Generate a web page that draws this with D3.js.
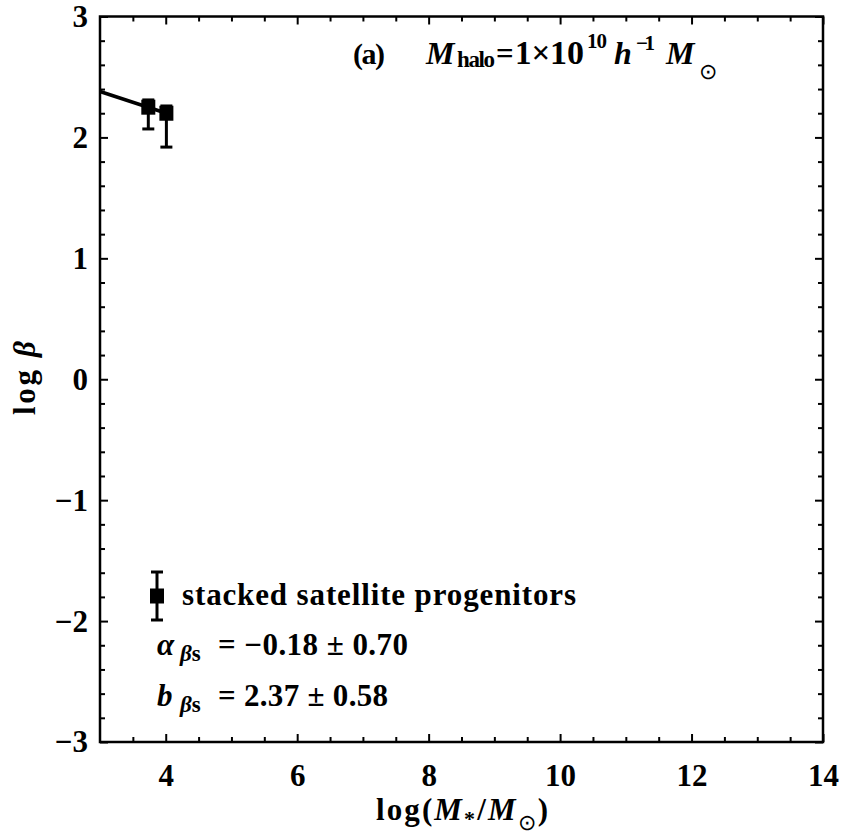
<!DOCTYPE html>
<html>
<head>
<meta charset="utf-8">
<script src="https://cdn.jsdelivr.net/npm/d3@7"></script>
<style>
  html, body { margin: 0; padding: 0; background: #fff; }
  text { font-family: "Liberation Serif", "Times New Roman", serif; font-weight: bold; fill: #000; }
</style>
</head>
<body>
<svg id="chart" width="842" height="834"></svg>
<script>
// ---- data ----
const xDomain = [3, 14];
const yDomain = [-3, 3];
const xTickValues = [4, 6, 8, 10, 12, 14];
const yTickValues = [-3, -2, -1, 0, 1, 2, 3];
const pointX = [3.735, 4.01];
const pointY = [2.25, 2.20];
const errLow = [2.07, 1.92];
const errHigh = [2.31, 2.26];
const fitX = [3.0, 4.01];
const fitY = [2.38, 2.20];
const legendLabel = "stacked satellite progenitors";
const alphaText = "= \u22120.18 \u00B1 0.70";
const bText = "= 2.37 \u00B1 0.58";

// ---- layout ----
const W = 842, H = 834;
const margin = { left: 100, right: 19, top: 16.5, bottom: 92 };
const svg = d3.select("#chart");
const x = d3.scaleLinear().domain(xDomain).range([margin.left, W - margin.right]);
const y = d3.scaleLinear().domain(yDomain).range([H - margin.bottom, margin.top]);

const minorX = d3.range(3.5, 14, 0.5).filter(v => Math.abs(v / 2 - Math.round(v / 2)) > 1e-6);
const minorY = d3.range(-2.8, 3, 0.2).map(v => +v.toFixed(2)).filter(v => Math.abs(v - Math.round(v)) > 1e-6);

const fmt = d => (d < 0 ? "\u2212" + Math.abs(d) : "" + d);

function styleAxis(g) {
  g.select(".domain").remove();
  g.selectAll(".tick line").attr("stroke", "#000").attr("stroke-width", 2);
  g.selectAll(".tick text").style("font-size", "31px").attr("fill", "#000");
}

// bottom
svg.append("g").attr("transform", `translate(0,${y(-3)})`)
  .call(d3.axisBottom(x).tickValues(xTickValues).tickSize(-8).tickPadding(22).tickFormat(fmt)).call(styleAxis);
svg.append("g").attr("transform", `translate(0,${y(-3)})`)
  .call(d3.axisBottom(x).tickValues(minorX).tickSize(-5).tickFormat("")).call(styleAxis);
// top
svg.append("g").attr("transform", `translate(0,${y(3)})`)
  .call(d3.axisTop(x).tickValues(xTickValues).tickSize(-8).tickFormat("")).call(styleAxis);
svg.append("g").attr("transform", `translate(0,${y(3)})`)
  .call(d3.axisTop(x).tickValues(minorX).tickSize(-5).tickFormat("")).call(styleAxis);
// left
svg.append("g").attr("transform", `translate(${x(3)},0)`)
  .call(d3.axisLeft(y).tickValues(yTickValues).tickSize(-8).tickPadding(12).tickFormat(fmt)).call(styleAxis);
svg.append("g").attr("transform", `translate(${x(3)},0)`)
  .call(d3.axisLeft(y).tickValues(minorY).tickSize(-5).tickFormat("")).call(styleAxis);
// right
svg.append("g").attr("transform", `translate(${x(14)},0)`)
  .call(d3.axisRight(y).tickValues(yTickValues).tickSize(-8).tickFormat("")).call(styleAxis);
svg.append("g").attr("transform", `translate(${x(14)},0)`)
  .call(d3.axisRight(y).tickValues(minorY).tickSize(-5).tickFormat("")).call(styleAxis);

// frame
svg.append("rect")
  .attr("x", x(3)).attr("y", y(3))
  .attr("width", x(14) - x(3)).attr("height", y(-3) - y(3))
  .attr("fill", "none").attr("stroke", "#000").attr("stroke-width", 2.5);

// fit line
const line = d3.line().x(d => x(d[0])).y(d => y(d[1]));
svg.append("path")
  .datum(d3.zip(fitX, fitY))
  .attr("d", line)
  .attr("fill", "none").attr("stroke", "#000").attr("stroke-width", 3.5);

// error bars + squares
const pts = pointX.map((px, i) => ({ x: px, y: pointY[i], lo: errLow[i], hi: errHigh[i] }));
const eb = svg.append("g");
pts.forEach(p => {
  eb.append("line").attr("x1", x(p.x)).attr("x2", x(p.x)).attr("y1", y(p.lo)).attr("y2", y(p.hi))
    .attr("stroke", "#000").attr("stroke-width", 3);
  [p.lo, p.hi].forEach(v => {
    eb.append("line").attr("x1", x(p.x) - 6).attr("x2", x(p.x) + 6).attr("y1", y(v)).attr("y2", y(v))
      .attr("stroke", "#000").attr("stroke-width", 3);
  });
  eb.append("rect").attr("x", x(p.x) - 7).attr("y", y(p.y) - 7.5).attr("width", 14).attr("height", 15)
    .attr("fill", "#000");
});

// legend
const lg = svg.append("g");
const lx = 157, ly = 596;
lg.append("line").attr("x1", lx).attr("x2", lx).attr("y1", ly - 24).attr("y2", ly + 24).attr("stroke", "#000").attr("stroke-width", 3);
[ly - 24, ly + 24].forEach(v => lg.append("line").attr("x1", lx - 6).attr("x2", lx + 6).attr("y1", v).attr("y2", v).attr("stroke", "#000").attr("stroke-width", 3));
lg.append("rect").attr("x", lx - 7).attr("y", ly - 7.5).attr("width", 14).attr("height", 15).attr("fill", "#000");
lg.append("text").attr("x", 182).attr("y", 605).style("font-size", "31px")
  .attr("textLength", 394).attr("lengthAdjust", "spacing").text(legendLabel);

// alpha & b lines
function coefLine(sym, rest, yy, restLen) {
  svg.append("text").attr("x", 157).attr("y", yy).style("font-size", "31px").style("font-style", "italic").text(sym);
  const s = svg.append("text").attr("x", 180).attr("y", yy + 6).style("font-size", "23px");
  s.append("tspan").style("font-style", "italic").text("\u03B2");
  s.append("tspan").text("s");
  svg.append("text").attr("x", 218).attr("y", yy).style("font-size", "31px")
    .attr("textLength", restLen).attr("lengthAdjust", "spacing").text(rest);
}
coefLine("\u03B1", alphaText, 655, 190);
coefLine("b", bText, 706, 170);

// title
function piece(txt, px, py, size, opts = {}) {
  const t = svg.append("text").attr("x", px).attr("y", py).style("font-size", size + "px").text(txt);
  if (opts.italic) t.style("font-style", "italic");
  if (opts.normal) t.style("font-weight", "normal");
  if (opts.len) t.attr("textLength", opts.len).attr("lengthAdjust", "spacing");
  return t;
}
piece("(a)", 353, 64, 30, { len: 32 });
piece("M", 426, 64, 32, { italic: true });
piece("halo", 457, 67, 23, { len: 38 });
piece("=", 496, 64, 31);
piece("1\u00D7", 515, 64, 33);
piece("10", 550, 64, 34);
piece("10", 587, 48, 21, { len: 20 });
piece("h", 614, 64, 32, { italic: true });
piece("\u22121", 636, 50, 21, { len: 19 });
piece("M", 666, 64, 32, { italic: true });
piece("\u2299", 699, 79, 22, { normal: true });

// axis labels
const xl = svg.append("text").attr("x", 376).attr("y", 820).style("font-size", "31px")
  .attr("textLength", 172).attr("lengthAdjust", "spacing");
xl.append("tspan").text("log(");
xl.append("tspan").style("font-style", "italic").text("M");
xl.append("tspan").attr("dy", 6).style("font-size", "22px").text("*");
xl.append("tspan").attr("dy", -6).text("/");
xl.append("tspan").style("font-style", "italic").text("M");
xl.append("tspan").attr("dy", 10).style("font-size", "22px").style("font-weight", "normal").text("\u2299");
xl.append("tspan").attr("dy", -10).text(")");

const yl = svg.append("text").attr("transform", "translate(35,378) rotate(-90)").attr("text-anchor", "middle").style("font-size", "31px")
  .attr("textLength", 74).attr("lengthAdjust", "spacing");
yl.append("tspan").text("log ");
yl.append("tspan").style("font-style", "italic").text("\u03B2");
</script>
</body>
</html>
